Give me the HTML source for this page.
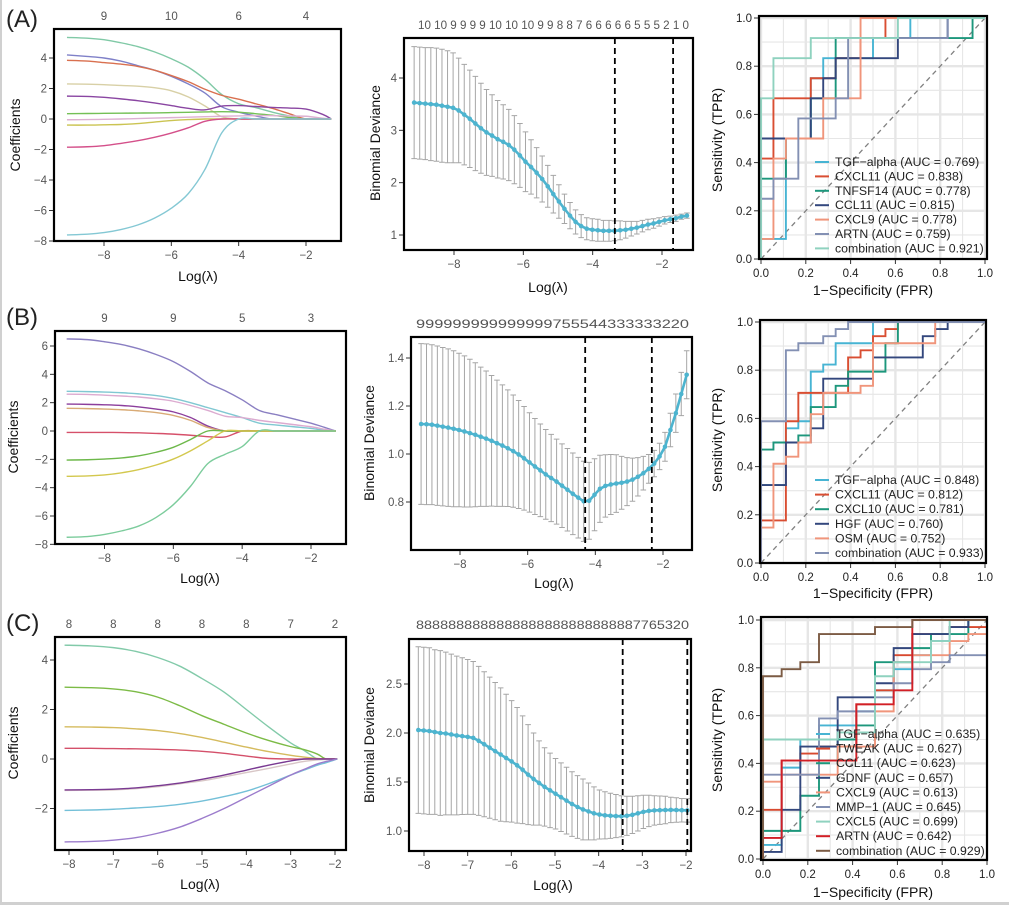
<!DOCTYPE html>
<html><head><meta charset="utf-8"><title>LASSO and ROC figure</title>
<style>
html,body{margin:0;padding:0;background:#fff;}
svg{display:block;font-family:"Liberation Sans",Arial,sans-serif;}
</style></head>
<body>
<svg id="fig" width="1009" height="905" viewBox="0 0 1009 905" xmlns="http://www.w3.org/2000/svg">
<rect x="0" y="0" width="1009" height="905" fill="#fff"/>
<rect x="0" y="0" width="2" height="905" fill="#d0d0d0"/>
<rect x="0" y="902" width="1009" height="3" fill="#d0d0d0"/>
<text x="6" y="27" font-size="24" fill="#222">(A)</text>
<text x="6" y="325" font-size="24" fill="#222">(B)</text>
<text x="6" y="631" font-size="24" fill="#222">(C)</text>
</svg>
<script>
// ================= DATA =================
// --- Panel A coefficient paths ---
const coefALambda = [-9.1,-8.5,-8,-7.5,-7,-6.5,-6,-5.5,-5,-4.5,-4,-3.5,-3,-2.5,-2,-1.5,-1.25];
const coefA1 = [5.35,5.3,5.2,5.0,4.75,4.4,3.95,3.4,2.6,1.6,1.0,0.75,0.45,0.2,0,0,0];
const coefA2 = [4.2,4.1,4.0,3.8,3.5,3.2,2.8,2.3,1.7,0.8,0.45,0.2,0,0,0,0,0];
const coefA3 = [3.85,3.8,3.7,3.6,3.45,3.2,2.85,2.45,1.95,1.55,1.3,1.0,0.7,0.35,0,0,0];
const coefA4 = [2.3,2.28,2.25,2.2,2.15,2.05,1.85,1.45,0.85,0.15,0,0,0,0,0,0,0];
const coefA5 = [1.5,1.48,1.42,1.32,1.2,1.05,0.88,0.7,0.6,0.85,0.88,0.82,0.76,0.72,0.65,0.3,0];
const coefA6 = [0.35,0.36,0.37,0.38,0.39,0.4,0.42,0.44,0.46,0.48,0.45,0.35,0.25,0.1,0,0,0];
const coefA7 = [-0.05,-0.04,-0.02,0,0.03,0.06,0.09,0.12,0.15,0.18,0.2,0.22,0.22,0.2,0.18,0.05,0];
const coefA8 = [-0.4,-0.4,-0.38,-0.36,-0.3,-0.2,-0.1,-0.04,0,0,0,0,0,0,0,0,0];
const coefA9 = [-1.85,-1.82,-1.75,-1.6,-1.42,-1.2,-0.92,-0.58,-0.15,0,0,0,0,0,0,0,0];
const coefA10 = [-7.6,-7.55,-7.45,-7.25,-6.95,-6.5,-5.85,-4.9,-3.3,-0.9,0,0,0,0,0,0,0];
const coefATopLabels = ['9','10','6','4'];
const coefATopAt = [-8,-6,-4,-2];

// --- Panel B coefficient paths ---
const coefBLambda = [-9.1,-8.5,-8,-7.5,-7,-6.5,-6,-5.5,-5,-4.5,-4,-3.5,-3,-2.5,-2,-1.6,-1.28];
const coefB1 = [6.5,6.45,6.3,6.1,5.8,5.4,4.9,4.2,3.4,2.85,2.2,1.45,1.15,0.85,0.55,0.25,0];
const coefB2 = [2.8,2.78,2.75,2.7,2.62,2.5,2.3,2.0,1.65,1.3,0.95,0.55,0.42,0.3,0.18,0.05,0];
const coefB3 = [2.6,2.58,2.53,2.47,2.4,2.27,2.1,1.8,1.45,1.05,0.95,0.75,0.6,0.45,0.3,0.12,0];
const coefB4 = [1.9,1.88,1.85,1.8,1.7,1.55,1.35,0.95,0.35,0,0,0,0,0,0,0,0];
const coefB5 = [1.6,1.58,1.55,1.5,1.42,1.3,1.1,0.75,0.25,0,0,0,0,0,0,0,0];
const coefB6 = [-0.1,-0.1,-0.1,-0.11,-0.13,-0.17,-0.22,-0.3,-0.4,-0.42,0,0,0,0,0,0,0];
const coefB7 = [-2.05,-2.03,-1.98,-1.9,-1.75,-1.5,-1.15,-0.6,0,0,0,0,0,0,0,0,0];
const coefB8 = [-3.2,-3.17,-3.1,-2.95,-2.72,-2.4,-1.98,-1.4,-0.7,0,0,0,0,0,0,0,0];
const coefB9 = [-7.5,-7.45,-7.3,-7.05,-6.7,-6.1,-5.2,-3.9,-2.3,-1.65,-1.1,0,0,0,0,0,0];
const coefBTopLabels = ['9','9','5','3'];
const coefBTopAt = [-8,-6,-4,-2];

// --- Panel C coefficient paths ---
const coefCLambda = [-8.1,-7.5,-7,-6.5,-6,-5.5,-5,-4.5,-4,-3.5,-3,-2.7,-2.4,-2.2,-1.95];
const coefC1 = [4.6,4.57,4.5,4.35,4.1,3.75,3.25,2.7,2.0,1.3,0.65,0.35,0,0,0];
const coefC2 = [2.9,2.88,2.83,2.72,2.5,2.15,1.75,1.4,1.05,0.75,0.5,0.38,0.2,0,0];
const coefC3 = [1.3,1.29,1.27,1.22,1.15,1.03,0.87,0.68,0.48,0.3,0.15,0.08,0.02,0,0];
const coefC4 = [0.43,0.43,0.42,0.41,0.39,0.36,0.31,0.23,0.12,0.02,0,0,0,0,0];
const coefC5 = [-1.27,-1.26,-1.25,-1.2,-1.12,-1.0,-0.88,-0.72,-0.55,-0.38,-0.2,-0.1,-0.04,-0.02,0];
const coefC6 = [-1.25,-1.24,-1.22,-1.17,-1.08,-0.97,-0.82,-0.65,-0.45,-0.25,-0.08,0,0,0,0];
const coefC7 = [-2.08,-2.06,-2.03,-1.98,-1.92,-1.83,-1.7,-1.52,-1.3,-1.0,-0.65,-0.45,-0.25,-0.15,0];
const coefC8 = [-3.35,-3.33,-3.28,-3.18,-3.0,-2.75,-2.4,-2.0,-1.55,-1.1,-0.65,-0.42,-0.2,-0.1,0];
const coefCTopLabels = ['8','8','8','8','8','7','2'];
const coefCTopAt = [-8,-7,-6,-5,-4,-3,-2];

// --- CV deviance curves ---
const cvAStart = -9.15, cvAStep = 0.1606;
const cvAMean = [3.53,3.52,3.51,3.5,3.49,3.47,3.45,3.43,3.38,3.3,3.22,3.13,3.04,2.96,2.9,2.83,2.78,2.72,2.63,2.52,2.4,2.3,2.19,2.07,1.93,1.78,1.64,1.5,1.37,1.25,1.17,1.12,1.1,1.09,1.08,1.08,1.08,1.09,1.1,1.12,1.14,1.17,1.2,1.22,1.25,1.28,1.3,1.32,1.35,1.37];
const cvASe = [1.07,1.07,1.07,1.08,1.08,1.08,1.07,1.05,1.0,0.96,0.93,0.9,0.86,0.82,0.78,0.74,0.71,0.68,0.65,0.61,0.57,0.52,0.48,0.44,0.4,0.36,0.32,0.28,0.25,0.23,0.22,0.21,0.21,0.21,0.2,0.2,0.19,0.18,0.16,0.14,0.12,0.11,0.1,0.09,0.08,0.07,0.06,0.06,0.05,0.05];
const cvALambdaMin = -3.36, cvALambda1se = -1.68;
const cvATopLabel = '10 10 9 9 9 9 10 10 10 9 9 8 8 7 6 6 6 6 6 5 5 5 2 1 0';

const cvBStart = -9.15, cvBStep = 0.1602;
const cvBMean = [1.125,1.124,1.122,1.118,1.114,1.11,1.105,1.1,1.094,1.087,1.08,1.072,1.064,1.055,1.045,1.035,1.024,1.012,0.998,0.982,0.965,0.948,0.932,0.915,0.9,0.885,0.868,0.851,0.834,0.818,0.803,0.805,0.83,0.855,0.867,0.873,0.877,0.88,0.885,0.893,0.905,0.92,0.938,0.96,0.99,1.03,1.1,1.17,1.25,1.33];
const cvBSe = [0.335,0.335,0.333,0.332,0.33,0.328,0.325,0.32,0.315,0.308,0.3,0.29,0.282,0.272,0.263,0.253,0.243,0.234,0.225,0.216,0.207,0.2,0.193,0.187,0.182,0.177,0.174,0.172,0.17,0.168,0.167,0.16,0.15,0.14,0.13,0.125,0.12,0.11,0.1,0.09,0.08,0.07,0.06,0.055,0.055,0.06,0.07,0.08,0.09,0.1];
const cvBLambdaMin = -4.3, cvBLambda1se = -2.33;
const cvBTopLabel = '999999999999999755544333333220';

const cvCStart = -8.13, cvCStep = 0.1257;
const cvCMean = [2.03,2.025,2.02,2.01,2.0,1.995,1.985,1.975,1.968,1.96,1.95,1.92,1.885,1.85,1.815,1.78,1.745,1.71,1.67,1.625,1.575,1.53,1.49,1.45,1.415,1.38,1.345,1.31,1.275,1.245,1.22,1.2,1.18,1.168,1.16,1.155,1.152,1.15,1.155,1.165,1.18,1.195,1.205,1.21,1.212,1.214,1.215,1.214,1.212,1.21];
const cvCSe = [0.85,0.85,0.85,0.84,0.84,0.83,0.82,0.81,0.8,0.79,0.78,0.76,0.74,0.72,0.7,0.68,0.65,0.62,0.59,0.55,0.51,0.47,0.43,0.4,0.38,0.36,0.35,0.34,0.33,0.32,0.31,0.29,0.27,0.25,0.24,0.23,0.22,0.21,0.2,0.19,0.18,0.17,0.16,0.15,0.145,0.14,0.13,0.125,0.12,0.12];
const cvCLambdaMin = -3.45, cvCLambda1se = -1.97;
const cvCTopLabel = '8888888888888888888888888887765320';

// --- ROC curves (step vertices: [false positives, true positives]) ---
const rocANeg = 18, rocAPos = 12;
const rocALabels = ['TGF\u2212alpha (AUC = 0.769)','CXCL11 (AUC = 0.838)','TNFSF14 (AUC = 0.778)','CCL11 (AUC = 0.815)','CXCL9 (AUC = 0.778)','ARTN (AUC = 0.759)','combination (AUC = 0.921)'];
const rocA1 = [[0,0],[0,1],[2,1],[2,6],[4,6],[4,9],[5,9],[5,10],[9,10],[9,11],[12,11],[12,12],[18,12]];
const rocA2 = [[0,0],[0,5],[1,5],[1,8],[4,8],[4,9],[6,9],[6,10],[8,10],[8,11],[10,11],[10,12],[18,12]];
const rocA3 = [[0,0],[0,4],[2,4],[2,6],[4,6],[4,8],[6,8],[6,11],[17,11],[17,12],[18,12]];
const rocA4 = [[0,0],[0,6],[4,6],[4,8],[5,8],[5,9],[6,9],[6,10],[11,10],[11,11],[15,11],[15,12],[18,12]];
const rocA5 = [[0,0],[0,1],[1,1],[1,5],[2,5],[2,6],[5,6],[5,8],[8,8],[8,12],[18,12]];
const rocA6 = [[0,0],[0,3],[1,3],[1,4],[3,4],[3,7],[6,7],[6,8],[7,8],[7,11],[15,11],[15,12],[18,12]];
const rocA7 = [[0,0],[0,8],[1,8],[1,10],[4,10],[4,11],[11,11],[11,12],[18,12]];

const rocBNeg = 18, rocBPos = 34;
const rocBLabels = ['TGF\u2212alpha (AUC = 0.848)','CXCL11 (AUC = 0.812)','CXCL10 (AUC = 0.781)','HGF (AUC = 0.760)','OSM (AUC = 0.752)','combination (AUC = 0.933)'];
const rocB1 = [[0,0],[0,11],[2,11],[2,19],[3,19],[3,20],[4,20],[4,27],[5,27],[5,28],[6,28],[6,31],[9,31],[9,34],[18,34]];
const rocB2 = [[0,0],[0,6],[2,6],[2,20],[3,20],[3,24],[7,24],[7,29],[8,29],[8,30],[9,30],[9,32],[10,32],[10,33],[11,33],[11,34],[18,34]];
const rocB3 = [[0,0],[0,16],[1,16],[1,17],[3,17],[3,18],[4,18],[4,22],[6,22],[6,25],[7,25],[7,27],[10,27],[10,31],[11,31],[11,34],[18,34]];
const rocB4 = [[0,0],[0,11],[2,11],[2,17],[4,17],[4,19],[5,19],[5,26],[9,26],[9,29],[13,29],[13,32],[14,32],[14,33],[15,33],[15,34],[18,34]];
const rocB5 = [[0,0],[0,5],[1,5],[1,14],[2,14],[2,15],[3,15],[3,17],[4,17],[4,21],[5,21],[5,24],[8,24],[8,25],[9,25],[9,31],[14,31],[14,34],[18,34]];
const rocB6 = [[0,0],[0,20],[2,20],[2,30],[3,30],[3,31],[5,31],[5,32],[6,32],[6,33],[7,33],[7,34],[18,34]];

const rocCNeg = 12, rocCPos = 34;
const rocCLabels = ['TGF\u2212alpha (AUC = 0.635)','TWEAK (AUC = 0.627)','CCL11 (AUC = 0.623)','GDNF (AUC = 0.657)','CXCL9 (AUC = 0.613)','MMP\u22121 (AUC = 0.645)','CXCL5 (AUC = 0.699)','ARTN (AUC = 0.642)','combination (AUC = 0.929)'];
const rocC1 = [[0,0],[0,2],[1,2],[1,13],[2,13],[2,17],[3,17],[3,19],[5,19],[5,21],[6,21],[6,24],[7,24],[7,27],[8,27],[8,29],[9,29],[9,31],[10,31],[10,33],[11,33],[11,34],[12,34]];
const rocC2 = [[0,0],[0,7],[1,7],[1,14],[2,14],[2,15],[3,15],[3,16],[5,16],[5,22],[6,22],[6,24],[7,24],[7,29],[8,29],[8,32],[10,32],[10,33],[12,33]];
const rocC3 = [[0,0],[0,4],[2,4],[2,9],[3,9],[3,14],[4,14],[4,17],[5,17],[5,19],[6,19],[6,28],[8,28],[8,30],[9,30],[9,32],[11,32],[11,34],[12,34]];
const rocC4 = [[0,0],[0,1],[1,1],[1,7],[2,7],[2,16],[4,16],[4,23],[6,23],[6,25],[7,25],[7,30],[8,30],[8,32],[10,32],[10,33],[11,33],[11,34],[12,34]];
const rocC5 = [[0,0],[0,11],[1,11],[1,12],[4,12],[4,16],[6,16],[6,21],[7,21],[7,28],[8,28],[8,29],[10,29],[10,31],[11,31],[11,32],[12,32],[12,33]];
const rocC6 = [[0,0],[0,12],[3,12],[3,20],[4,20],[4,21],[6,21],[6,23],[7,23],[7,25],[8,25],[8,27],[9,27],[9,28],[10,28],[10,29],[12,29]];
const rocC7 = [[0,0],[0,17],[4,17],[4,18],[6,18],[6,26],[7,26],[7,28],[9,28],[9,31],[10,31],[10,34],[12,34]];
const rocC8 = [[0,0],[0,3],[1,3],[1,14],[5,14],[5,22],[7,22],[7,24],[8,24],[8,34],[12,34]];
const rocC9 = [[0,0],[0,26],[1,26],[1,27],[2,27],[2,28],[3,28],[3,32],[6,32],[6,33],[8,33],[8,34],[12,34]];

// ================= DRAWING =================
const NS = 'http://www.w3.org/2000/svg';
const svg = document.getElementById('fig');
function mk(tag, attrs, parent){
  const e = document.createElementNS(NS, tag);
  for (const k in attrs) e.setAttribute(k, attrs[k]);
  (parent || svg).appendChild(e);
  return e;
}
function lin(d0, r0, d1, r1){ return v => r0 + (v - d0) * (r1 - r0) / (d1 - d0); }
function smoothPath(pts){
  let d = 'M' + pts[0][0].toFixed(2) + ',' + pts[0][1].toFixed(2);
  for (let i = 0; i < pts.length - 1; i++){
    const p0 = pts[Math.max(0, i - 1)], p1 = pts[i], p2 = pts[i + 1], p3 = pts[Math.min(pts.length - 1, i + 2)];
    const c1x = p1[0] + (p2[0] - p0[0]) / 6, c1y = p1[1] + (p2[1] - p0[1]) / 6;
    const c2x = p2[0] - (p3[0] - p1[0]) / 6, c2y = p2[1] - (p3[1] - p1[1]) / 6;
    d += ' C' + c1x.toFixed(2) + ',' + c1y.toFixed(2) + ' ' + c2x.toFixed(2) + ',' + c2y.toFixed(2) + ' ' + p2[0].toFixed(2) + ',' + p2[1].toFixed(2);
  }
  return d;
}

function frame(g, box, prefix){
  const r = mk('rect', {x: box.x0, y: box.y0, width: box.x1 - box.x0, height: box.y1 - box.y0, fill: 'none', stroke: '#000', 'stroke-width': 2.2}, g);
  
  
}
function xTicks(g, box, xs, vals, labels, prefix, color){
  vals.forEach((v, i) => {
    const x = xs(v);
    const t = mk('line', {x1: x, x2: x, y1: box.y1 + 1, y2: box.y1 + 5, stroke: '#333', 'stroke-width': 1}, g);
    
    
    const l = mk('text', {x: x, y: box.y1 + 18, 'text-anchor': 'middle', 'font-size': 11.5, fill: color}, g);
    l.textContent = labels[i];
    
    
  });
}
function yTicks(g, box, ys, vals, labels, prefix, color){
  vals.forEach((v, i) => {
    const y = ys(v);
    const t = mk('line', {x1: box.x0 - 1, x2: box.x0 - 5, y1: y, y2: y, stroke: '#333', 'stroke-width': 1}, g);
    
    
    const l = mk('text', {x: box.x0 - 7, y: y + 4, 'text-anchor': 'end', 'font-size': 11.5, fill: color}, g);
    l.textContent = labels[i];
    
    
  });
}
function axisTitles(g, xt, xx, xy, yt, yx, yy, prefix){
  const a = mk('text', {x: xx, y: xy, 'text-anchor': 'middle', 'font-size': 14, fill: '#111'}, g);
  a.textContent = xt;
  
  
  const b = mk('text', {x: yx, y: yy, 'text-anchor': 'middle', 'font-size': 14, fill: '#111', transform: 'rotate(-90 ' + yx + ' ' + yy + ')'}, g);
  b.textContent = yt;
  
  
}

// ---- coefficient panels ----
function coefPanel(prefix, box, xs, ys, lambdas, series, colors, xtv, ytv, topLabels, topAt, topY, titlePos){
  const g = mk('g', {});
  
  
  series.forEach((s, k) => {
    const pts = s.map((v, i) => [xs(lambdas[i]), ys(v)]);
    const p = mk('path', {d: smoothPath(pts), fill: 'none', stroke: colors[k], 'stroke-width': 1.4}, g);
    
    
  });
  frame(g, box, prefix);
  xTicks(g, box, xs, xtv, xtv.map(v => v < 0 ? '\u2212' + Math.abs(v) : String(v)), prefix, '#555');
  yTicks(g, box, ys, ytv, ytv.map(v => v < 0 ? '\u2212' + Math.abs(v) : String(v)), prefix, '#555');
  topLabels.forEach((lab, i) => {
    const t = mk('text', {x: xs(topAt[i]), y: topY, 'text-anchor': 'middle', 'font-size': 11.5, fill: '#555'}, g);
    t.textContent = lab;
    
    
  });
  axisTitles(g, 'Log(\u03bb)', titlePos[0], titlePos[1], 'Coefficients', titlePos[2], titlePos[3], prefix);
}

const boxA1 = {x0: 54, x1: 341, y0: 29, y1: 241};
coefPanel('panel-a', boxA1, lin(-8, 104, -2, 306), lin(0, 119, 4, 58), coefALambda,
  [coefA1, coefA2, coefA3, coefA4, coefA5, coefA6, coefA7, coefA8, coefA9, coefA10],
  ['#80c9a6', '#7f80c8', '#d9704f', '#d8d0a6', '#8a46a2', '#74c056', '#ddb0d2', '#cbc452', '#d4508a', '#84c8d4'],
  [-8, -6, -4, -2], [-8, -6, -4, -2, 0, 2, 4], coefATopLabels, coefATopAt, 20, [198, 281, 20, 135]);

const boxB1 = {x0: 55, x1: 346, y0: 331, y1: 544};
coefPanel('panel-b', boxB1, lin(-8, 104.5, -2, 311), lin(0, 431, 6, 346), coefBLambda,
  [coefB1, coefB2, coefB3, coefB4, coefB5, coefB6, coefB7, coefB8, coefB9],
  ['#8a7fc2', '#80c8d2', '#dcabd0', '#8c3e9c', '#d9ab76', '#d6506a', '#6db84a', '#d3c84e', '#7ccc9c'],
  [-8, -6, -4, -2], [-8, -6, -4, -2, 0, 2, 4, 6], coefBTopLabels, coefBTopAt, 322, [200, 583, 18, 437]);

const boxC1 = {x0: 55, x1: 346, y0: 637, y1: 850};
coefPanel('panel-c', boxC1, lin(-8, 69, -2, 335), lin(0, 759, 4, 660), coefCLambda,
  [coefC1, coefC2, coefC3, coefC4, coefC5, coefC6, coefC7, coefC8],
  ['#82caa9', '#7cbb46', '#d5bb5e', '#d4506a', '#d8c6c6', '#7a3a92', '#74c0d8', '#9c7ccc'],
  [-8, -7, -6, -5, -4, -3, -2], [-2, 0, 2, 4], coefCTopLabels, coefCTopAt, 628, [200, 889, 18, 743]);

// ---- CV panels ----
function cvPanel(prefix, box, xs, ys, start, step, mean, se, lmin, l1se, topLabel, topX0, topX1, topY, xtv, ytv, ytl, titlePos){
  const g = mk('g', {});
  
  
  const lam = mean.map((_, i) => start + i * step);
  mean.forEach((m, i) => {
    const x = xs(lam[i]), yu = ys(m + se[i]), yl = ys(m - se[i]);
    const e = mk('path', {d: 'M' + x + ',' + yu + 'V' + yl + 'M' + (x - 2.8) + ',' + yu + 'h5.6M' + (x - 2.8) + ',' + yl + 'h5.6', stroke: '#a6a6a6', 'stroke-width': 1, fill: 'none'}, g);
    
    
  });
  const ln = mk('polyline', {points: mean.map((m, i) => xs(lam[i]).toFixed(2) + ',' + ys(m).toFixed(2)).join(' '), fill: 'none', stroke: '#4db4cf', 'stroke-width': 2.6}, g);
  
  
  mean.forEach((m, i) => {
    const c = mk('circle', {cx: xs(lam[i]), cy: ys(m), r: 2.3, fill: '#4db4cf'}, g);
    
    
  });
  [lmin, l1se].forEach((v, k) => {
    const d = mk('line', {x1: xs(v), x2: xs(v), y1: box.y0, y2: box.y1, stroke: '#000', 'stroke-width': 1.8, 'stroke-dasharray': '6,4'}, g);
    
    
  });
  frame(g, box, prefix + '-cv');
  xTicks(g, box, xs, xtv, xtv.map(v => '\u2212' + Math.abs(v)), prefix + '-cv', '#555');
  yTicks(g, box, ys, ytv, ytl, prefix + '-cv', '#555');
  const t = mk('text', {x: topX0, y: topY, 'font-size': 11.5, fill: '#555', textLength: topX1 - topX0, lengthAdjust: 'spacingAndGlyphs'}, g);
  t.textContent = topLabel;
  
  
  axisTitles(g, 'Log(\u03bb)', titlePos[0], titlePos[1], 'Binomial Deviance', titlePos[2], titlePos[3], prefix + '-cv');
}

cvPanel('panel-a', {x0: 404, x1: 693, y0: 38, y1: 250}, lin(-8, 454, -2, 662), lin(1, 235, 4, 78),
  cvAStart, cvAStep, cvAMean, cvASe, cvALambdaMin, cvALambda1se, cvATopLabel, 418, 689, 29,
  [-8, -6, -4, -2], [1, 2, 3, 4], ['1', '2', '3', '4'], [548, 292, 380, 143]);
cvPanel('panel-b', {x0: 411, x1: 692, y0: 337, y1: 550}, lin(-8, 460, -2, 663), lin(0.8, 502, 1.4, 358),
  cvBStart, cvBStep, cvBMean, cvBSe, cvBLambdaMin, cvBLambda1se, cvBTopLabel, 416, 689, 328,
  [-8, -6, -4, -2], [0.8, 1.0, 1.2, 1.4], ['0.8', '1.0', '1.2', '1.4'], [554, 588, 374, 443]);
cvPanel('panel-c', {x0: 409, x1: 691, y0: 639, y1: 851}, lin(-8, 424, -2, 686), lin(1, 831, 2.5, 684),
  cvCStart, cvCStep, cvCMean, cvCSe, cvCLambdaMin, cvCLambda1se, cvCTopLabel, 416, 689, 629,
  [-8, -7, -6, -5, -4, -3, -2], [1.0, 1.5, 2.0, 2.5], ['1.0', '1.5', '2.0', '2.5'], [553, 890, 374, 745]);

// ---- ROC panels ----
function rocPanel(prefix, box, xs, ys, neg, pos, curves, labels, colors, legX, legY0, legStep, titlePos){
  const g = mk('g', {});
  
  
  for (let i = 0; i <= 10; i++){
    const v = i / 10, major = i % 2 === 0;
    const gx = mk('line', {x1: xs(v), x2: xs(v), y1: box.y0, y2: box.y1, stroke: '#e6e6e6', 'stroke-width': major ? 2.4 : 1.1}, g);
    
    
    const gy = mk('line', {x1: box.x0, x2: box.x1, y1: ys(v), y2: ys(v), stroke: '#e6e6e6', 'stroke-width': major ? 2.4 : 1.1}, g);
    
    
  }
  const diag = mk('line', {x1: xs(0), y1: ys(0), x2: xs(1), y2: ys(1), stroke: '#808080', 'stroke-width': 1.3, 'stroke-dasharray': '5,4'}, g);
  
  
  curves.forEach((c, k) => {
    const p = mk('polyline', {points: c.map(q => xs(q[0] / neg).toFixed(2) + ',' + ys(q[1] / pos).toFixed(2)).join(' '), fill: 'none', stroke: colors[k], 'stroke-width': 1.9}, g);
    
    
  });
  labels.forEach((lab, k) => {
    const y = legY0 + k * legStep;
    const l = mk('line', {x1: legX - 20, x2: legX - 6, y1: y, y2: y, stroke: colors[k], 'stroke-width': 2}, g);
    
    
    const t = mk('text', {x: legX, y: y + 4, 'font-size': 12.3, fill: '#222'}, g);
    t.textContent = lab;
    
    
  });
  frame(g, box, prefix + '-roc');
  const tv = [0, 0.2, 0.4, 0.6, 0.8, 1.0], tl = ['0.0', '0.2', '0.4', '0.6', '0.8', '1.0'];
  xTicks(g, box, xs, tv, tl, prefix + '-roc', '#222');
  yTicks(g, box, ys, tv, tl, prefix + '-roc', '#222');
  axisTitles(g, '1\u2212Specificity (FPR)', titlePos[0], titlePos[1], 'Sensitivity (TPR)', titlePos[2], titlePos[3], prefix + '-roc');
}

rocPanel('panel-a', {x0: 759, x1: 987, y0: 16, y1: 259}, lin(0, 761, 1, 985), lin(0, 259, 1, 18), rocANeg, rocAPos,
  [rocA1, rocA2, rocA3, rocA4, rocA5, rocA6, rocA7], rocALabels,
  ['#47b4d3', '#d94e32', '#1d977c', '#33477d', '#f0957b', '#8390b3', '#8fd2bf'],
  835, 162, 14.4, [873, 295, 722, 140]);
rocPanel('panel-b', {x0: 760, x1: 986, y0: 320, y1: 563}, lin(0, 761, 1, 985), lin(0, 563, 1, 322), rocBNeg, rocBPos,
  [rocB1, rocB2, rocB3, rocB4, rocB5, rocB6], rocBLabels,
  ['#47b4d3', '#d94e32', '#1d977c', '#33477d', '#f0957b', '#8390b3'],
  835, 480, 14.6, [873, 598, 722, 440]);
rocPanel('panel-c', {x0: 761, x1: 987, y0: 617, y1: 860}, lin(0, 763, 1, 987), lin(0, 859, 1, 620), rocCNeg, rocCPos,
  [rocC1, rocC2, rocC3, rocC4, rocC5, rocC6, rocC7, rocC8, rocC9], rocCLabels,
  ['#47b4d3', '#d8492f', '#1d977c', '#33477d', '#f0957b', '#8390b3', '#8fd2bf', '#d21f26', '#7c5b44'],
  836, 734, 14.6, [873, 897, 722, 740]);
</script>
</body></html>
